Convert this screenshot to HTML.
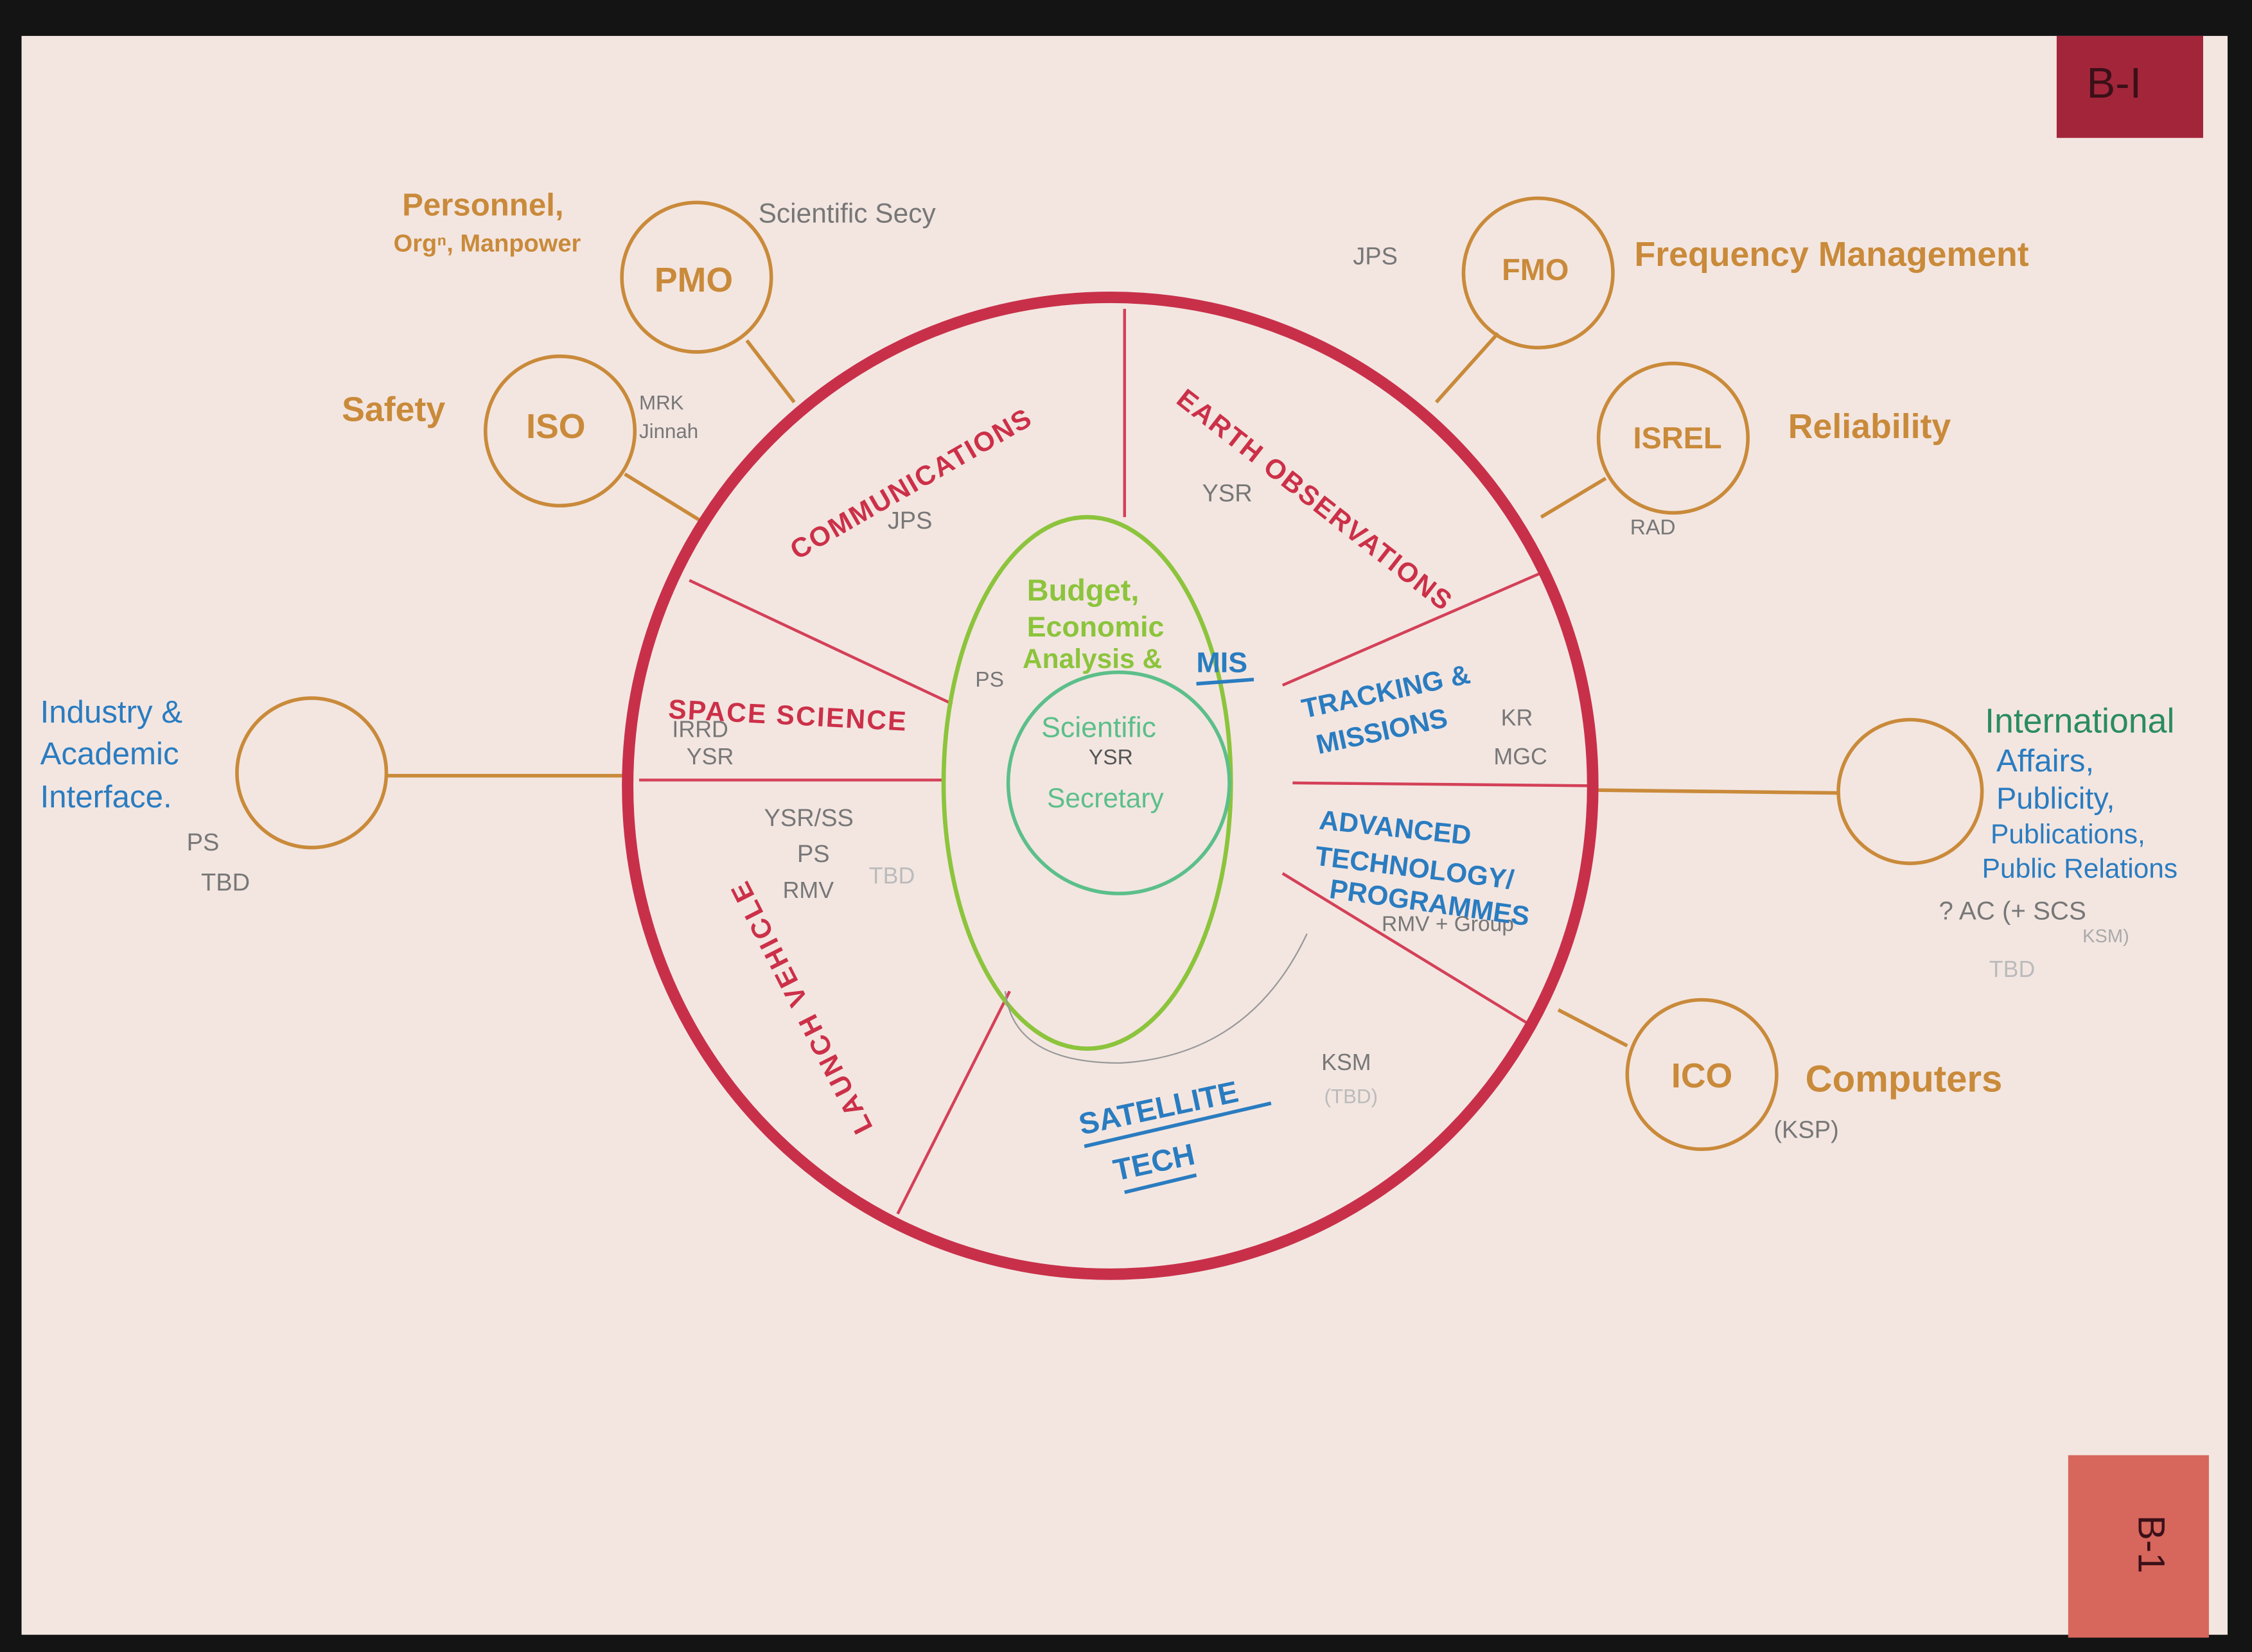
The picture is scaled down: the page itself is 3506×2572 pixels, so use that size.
<!DOCTYPE html>
<html><head><meta charset="utf-8"><style>
html,body{margin:0;padding:0;background:#111;}
svg{display:block;}
text{font-family:"Liberation Sans",sans-serif;}
.o{fill:#c98a3a;font-weight:bold;}
.r{fill:#cc3048;font-weight:bold;}
.b{fill:#2a7cc0;}
.g{fill:#8cc43c;font-weight:bold;}
.p{fill:#777;}
</style></head><body>
<svg width="3506" height="2572" viewBox="0 0 1568 1150" preserveAspectRatio="none" xmlns="http://www.w3.org/2000/svg">
<rect x="0" y="0" width="1568" height="1150" fill="#141414"/>
<rect x="15" y="25" width="1536" height="1113" fill="#f3e6e1"/>
<rect x="1432" y="25" width="102" height="71" fill="#a3253a"/>
<text x="1472" y="68" font-size="30" fill="#3a1018" text-anchor="middle">B-I</text>
<rect x="1440" y="1013" width="98" height="127" fill="#d7665c"/>
<text x="1489" y="1075" font-size="26" fill="#3a1018" text-anchor="middle" transform="rotate(90 1489 1075)">B-1</text>

<g stroke="#c98a3a" stroke-width="2.5" fill="none">
<line x1="520" y1="237" x2="553" y2="280"/>
<line x1="435" y1="330" x2="487" y2="362"/>
<line x1="1043" y1="232" x2="1000" y2="280"/>
<line x1="1118" y1="333" x2="1073" y2="360"/>
<line x1="269" y1="540" x2="437" y2="540"/>
<line x1="1110" y1="550" x2="1280" y2="552"/>
<line x1="1133" y1="728" x2="1085" y2="703"/>
<circle cx="485" cy="193" r="52"/>
<circle cx="390" cy="300" r="52"/>
<circle cx="1071" cy="190" r="52"/>
<circle cx="1165" cy="305" r="52"/>
<circle cx="217" cy="538" r="52"/>
<circle cx="1330" cy="551" r="50"/>
<circle cx="1185" cy="748" r="52"/>
</g>

<g stroke="#d44058" stroke-width="2" fill="none">
<line x1="783" y1="215" x2="783" y2="360"/>
<line x1="480" y1="404" x2="663" y2="490"/>
<line x1="445" y1="543" x2="657" y2="543"/>
<line x1="703" y1="690" x2="625" y2="845"/>
<line x1="893" y1="477" x2="1075" y2="398"/>
<line x1="900" y1="545" x2="1108" y2="547"/>
<line x1="893" y1="608" x2="1063" y2="712"/>
</g>
<ellipse cx="773" cy="547" rx="336" ry="340" fill="none" stroke="#c8304a" stroke-width="8"/>
<ellipse cx="757" cy="545" rx="100" ry="185" fill="none" stroke="#8cc43c" stroke-width="3"/>
<circle cx="779" cy="545" r="77" fill="none" stroke="#5cbf8a" stroke-width="2.5"/>
<path d="M700 690 Q705 740 780 740 Q870 735 910 650" fill="none" stroke="#999" stroke-width="1"/>

<text x="483" y="203" font-size="24" class="o" text-anchor="middle">PMO</text>
<text x="387" y="305" font-size="24" class="o" text-anchor="middle">ISO</text>
<text x="1069" y="195" font-size="21" class="o" text-anchor="middle">FMO</text>
<text x="1168" y="312" font-size="21" class="o" text-anchor="middle">ISREL</text>
<text x="1185" y="757" font-size="24" class="o" text-anchor="middle">ICO</text>
<text x="280" y="150" font-size="22" class="o">Personnel,</text>
<text x="274" y="175" font-size="17" class="o">Orgⁿ, Manpower</text>
<text x="238" y="293" font-size="24" class="o">Safety</text>
<text x="1138" y="185" font-size="24" class="o">Frequency Management</text>
<text x="1245" y="305" font-size="24" class="o">Reliability</text>
<text x="1257" y="760" font-size="26" class="o">Computers</text>

<text x="528" y="155" font-size="19" class="p">Scientific Secy</text>
<text x="445" y="285" font-size="14" class="p">MRK</text>
<text x="445" y="305" font-size="14" class="p">Jinnah</text>
<text x="942" y="184" font-size="17" class="p">JPS</text>
<text x="1135" y="372" font-size="15" class="p">RAD</text>
<text x="618" y="368" font-size="17" class="p">JPS</text>
<text x="837" y="349" font-size="17" class="p">YSR</text>
<text x="679" y="478" font-size="15" class="p">PS</text>
<text x="468" y="513" font-size="16" class="p">IRRD</text>
<text x="478" y="532" font-size="16" class="p">YSR</text>
<text x="532" y="575" font-size="17" class="p">YSR/SS</text>
<text x="555" y="600" font-size="17" class="p">PS</text>
<text x="545" y="625" font-size="16" class="p">RMV</text>
<text x="605" y="615" font-size="16" fill="#bbb">TBD</text>
<text x="1045" y="505" font-size="16" class="p">KR</text>
<text x="1040" y="532" font-size="16" class="p">MGC</text>
<text x="962" y="648" font-size="15" class="p">RMV + Group</text>
<text x="920" y="745" font-size="16" class="p">KSM</text>
<text x="922" y="768" font-size="14" fill="#bbb">(TBD)</text>
<text x="1235" y="792" font-size="17" class="p">(KSP)</text>
<text x="130" y="592" font-size="17" class="p">PS</text>
<text x="140" y="620" font-size="17" class="p">TBD</text>
<text x="1350" y="640" font-size="18" class="p">? AC (+ SCS</text>
<text x="1450" y="656" font-size="13" fill="#aaa">KSM)</text>
<text x="1385" y="680" font-size="16" fill="#bbb">TBD</text>
<text x="758" y="532" font-size="15" fill="#555">YSR</text>

<text x="28" y="503" font-size="22" class="b">Industry &amp;</text>
<text x="28" y="532" font-size="22" class="b">Academic</text>
<text x="28" y="562" font-size="22" class="b">Interface.</text>
<text x="1382" y="510" font-size="24" style="fill:#2a8c60">International</text>
<text x="1390" y="537" font-size="22" class="b">Affairs,</text>
<text x="1390" y="563" font-size="21" class="b">Publicity,</text>
<text x="1386" y="587" font-size="19" class="b">Publications,</text>
<text x="1380" y="611" font-size="19" class="b">Public Relations</text>
<g class="b" font-weight="bold" font-size="19">
<text x="908" y="500" transform="rotate(-12 908 500)">TRACKING &amp;</text>
<text x="918" y="525" transform="rotate(-12 918 525)">MISSIONS</text>
<text x="918" y="577" transform="rotate(6 918 577)">ADVANCED</text>
<text x="915" y="602" transform="rotate(7 915 602)">TECHNOLOGY/</text>
<text x="925" y="625" transform="rotate(8 925 625)">PROGRAMMES</text>
<text x="833" y="468" font-size="20">MIS</text>
<text x="753" y="790" transform="rotate(-12 753 790)" font-size="21">SATELLITE</text>
<text x="777" y="822" transform="rotate(-12 777 822)" font-size="21">TECH</text>
</g>
<line x1="755" y1="798" x2="885" y2="768" stroke="#2a7cc0" stroke-width="2.5"/>
<line x1="783" y1="830" x2="833" y2="818" stroke="#2a7cc0" stroke-width="2.5"/>
<line x1="833" y1="476" x2="873" y2="473" stroke="#2a7cc0" stroke-width="2.5"/>

<text x="555" y="390" font-size="19" class="r" transform="rotate(-30 555 390)" letter-spacing="1">COMMUNICATIONS</text>
<text x="818" y="280" font-size="19" class="r" transform="rotate(38 818 280)" letter-spacing="1">EARTH OBSERVATIONS</text>
<text x="465" y="500" font-size="19" class="r" transform="rotate(3 465 500)" letter-spacing="1">SPACE SCIENCE</text>
<text x="608" y="785" font-size="19" class="r" transform="rotate(-117 608 785)" letter-spacing="2">LAUNCH VEHICLE</text>

<text x="715" y="418" font-size="21" class="g">Budget,</text>
<text x="715" y="443" font-size="20" class="g">Economic</text>
<text x="712" y="465" font-size="19" class="g">Analysis &amp;</text>
<text x="725" y="513" font-size="20" fill="#5cbf8a">Scientific</text>
<text x="729" y="562" font-size="19" fill="#5cbf8a">Secretary</text>
</svg>
</body></html>
